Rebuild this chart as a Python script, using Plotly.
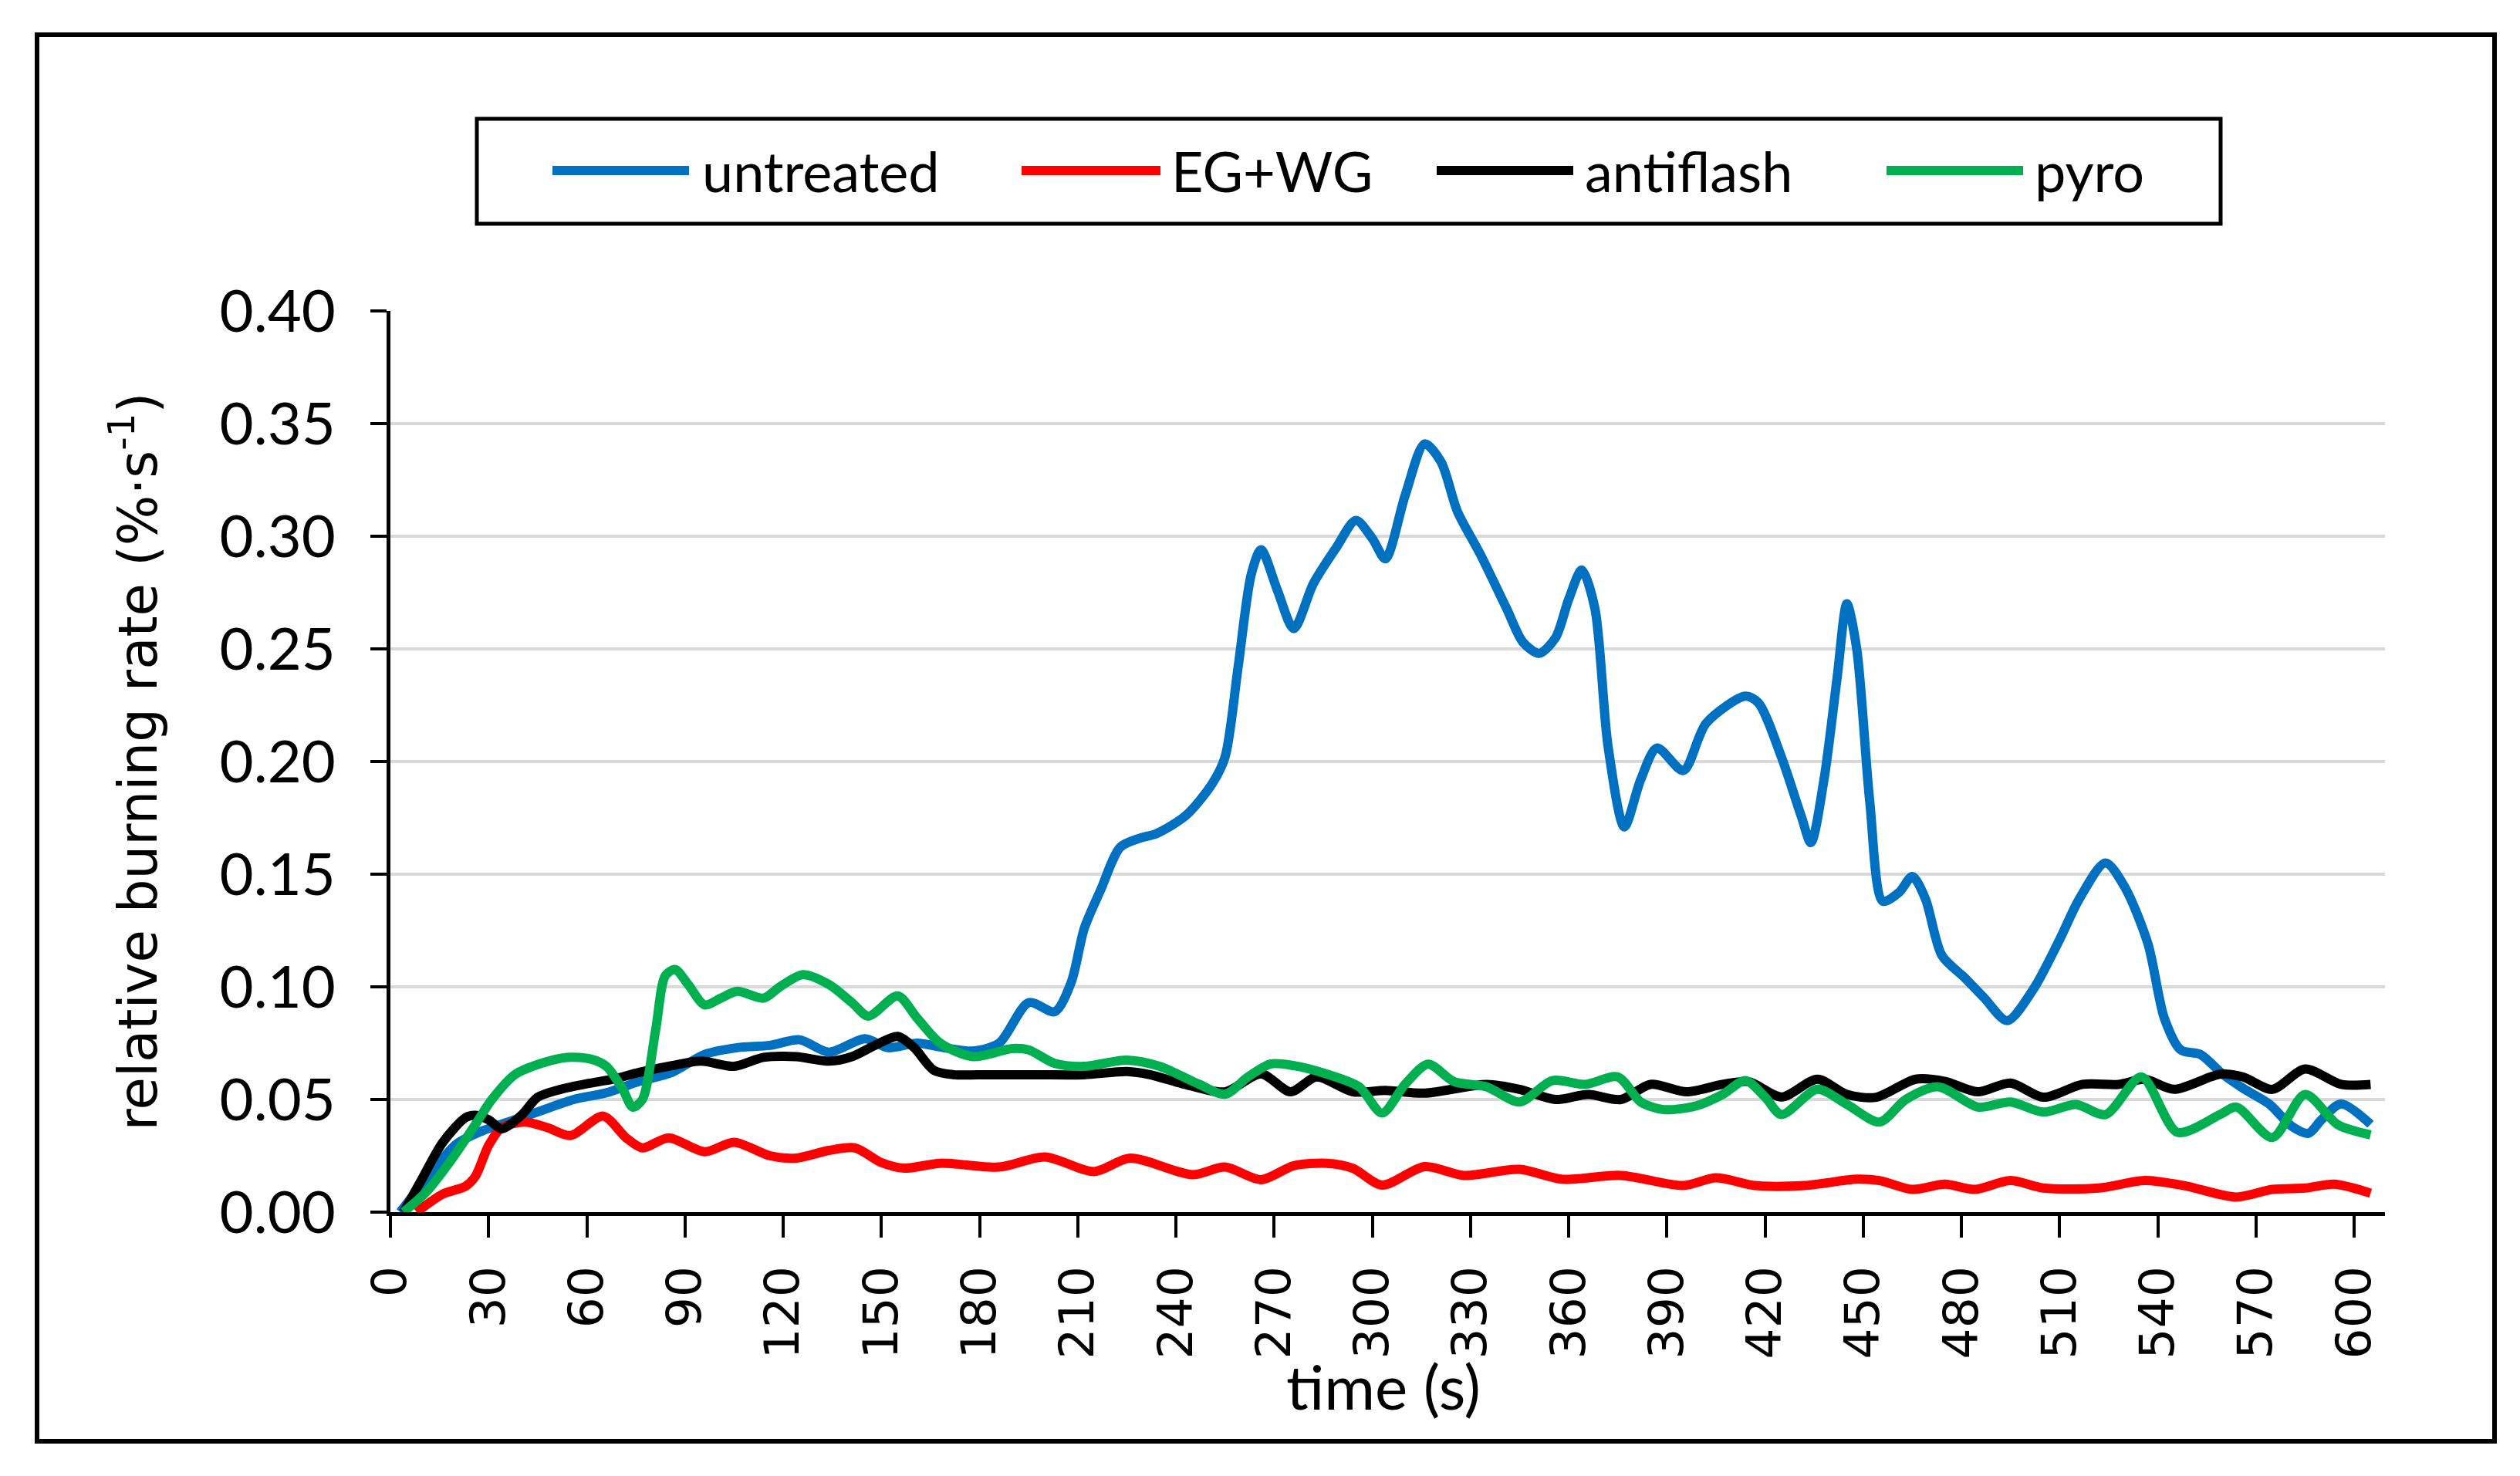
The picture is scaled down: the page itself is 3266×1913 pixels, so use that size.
import plotly.graph_objects as go

# ---------------- data ----------------
time_untreated = [3, 10, 20, 28, 36, 46, 56, 66, 76, 86, 96, 106, 116, 125, 134, 145, 152, 161, 169, 178,
                  186, 195, 203, 208, 212, 217, 223, 229, 234, 243, 251, 255, 259, 263, 266, 271, 276, 282,
                  289, 295, 300, 304, 310, 316, 321, 326, 333, 341, 346, 351, 356, 360, 364, 368, 372, 377,
                  382, 387, 395, 402, 414, 418, 425, 431, 434, 438, 442, 445, 448, 452, 456, 461, 465, 469,
                  474, 481, 487, 494, 502, 510, 516, 524, 530, 537, 542, 547, 553, 560, 566, 574, 581, 586,
                  590, 596, 605]
untreated = [0.000, 0.013, 0.030, 0.036, 0.040, 0.045, 0.050, 0.053, 0.058, 0.062, 0.070, 0.073, 0.074, 0.0765,
             0.071, 0.077, 0.073, 0.075, 0.073, 0.0715, 0.075, 0.093, 0.089, 0.102, 0.126, 0.143, 0.162, 0.166,
             0.168, 0.176, 0.190, 0.202, 0.242, 0.283, 0.294, 0.276, 0.259, 0.279, 0.295, 0.307, 0.299, 0.290,
             0.318, 0.341, 0.333, 0.311, 0.292, 0.268, 0.253, 0.248, 0.255, 0.272, 0.285, 0.268, 0.207, 0.171,
             0.192, 0.206, 0.196, 0.217, 0.229, 0.226, 0.202, 0.176, 0.164, 0.192, 0.237, 0.270, 0.250, 0.182,
             0.138, 0.142, 0.149, 0.139, 0.114, 0.104, 0.095, 0.085, 0.099, 0.121, 0.139, 0.155, 0.144, 0.119,
             0.086, 0.072, 0.070, 0.061, 0.055, 0.048, 0.038, 0.035, 0.041, 0.048, 0.039]

time_egwg = [8, 16, 23, 26, 30, 34, 41, 48, 55, 65, 72, 77, 85, 96, 105, 116, 124, 134, 142, 150, 157, 168,
             186, 200, 215, 226, 245, 255, 266, 276, 286, 294, 303, 316, 328, 345, 358, 376, 395, 405, 417,
             432, 448, 455, 465, 475, 484, 495, 505, 522, 536, 548, 564, 575, 585, 594, 605]
egwg = [0.000, 0.008, 0.0115, 0.016, 0.0296, 0.0375, 0.040, 0.0375, 0.034, 0.0426, 0.033, 0.0285, 0.033,
        0.0268, 0.031, 0.025, 0.024, 0.0274, 0.0285, 0.022, 0.0195, 0.0217, 0.020, 0.0245, 0.018, 0.024,
        0.0166, 0.020, 0.0144, 0.0206, 0.0217, 0.0195, 0.012, 0.0202, 0.0163, 0.019, 0.0146, 0.0163, 0.0118,
        0.0152, 0.0118, 0.0118, 0.0146, 0.014, 0.0101, 0.0124, 0.0101, 0.014, 0.0107, 0.0107, 0.014, 0.0118,
        0.0067, 0.0101, 0.0107, 0.0124, 0.0084]

time_antiflash = [4, 9, 16, 23, 26, 30, 34, 40, 45, 52, 60, 68, 76, 86, 95, 105, 114, 124, 134, 141, 148, 155,
                  160, 166, 172, 183, 197, 212, 225, 232, 242, 255, 266, 275, 283, 294, 304, 316, 335, 345, 356,
                  366, 376, 385, 396, 407, 415, 425, 436, 445, 454, 466, 475, 485, 495, 505, 517, 528, 536, 545,
                  559, 566, 575, 585, 596, 605]
antiflash = [0.000, 0.013, 0.031, 0.042, 0.043, 0.041, 0.037, 0.043, 0.051, 0.0545, 0.057, 0.059, 0.062, 0.065,
             0.067, 0.0647, 0.0687, 0.069, 0.067, 0.069, 0.074, 0.078, 0.073, 0.063, 0.061, 0.061, 0.061, 0.061,
             0.0624, 0.061, 0.057, 0.0534, 0.0614, 0.0534, 0.060, 0.0534, 0.054, 0.0528, 0.0567, 0.0545, 0.050,
             0.0522, 0.050, 0.0567, 0.0534, 0.0567, 0.0579, 0.0511, 0.059, 0.0522, 0.051, 0.059, 0.058, 0.0534,
             0.0573, 0.051, 0.0567, 0.0567, 0.059, 0.0545, 0.0612, 0.060, 0.0545, 0.0635, 0.0567, 0.0567]

time_pyro = [4, 11, 19, 26, 31, 38, 46, 54, 61, 66, 71, 74, 77, 81, 84, 87, 91, 96, 101, 106, 114, 119, 126,
             134, 141, 146, 155, 161, 168, 178, 190, 195, 203, 212, 225, 235, 247, 255, 262, 269, 276, 286, 296,
             303, 310, 317, 325, 335, 345, 355, 365, 375, 382, 389, 399, 407, 414, 420, 425, 436, 445, 455, 463,
             473, 485, 495, 505, 515, 524, 535, 546, 559, 564, 575, 585, 595, 605]
pyro = [0.000, 0.009, 0.024, 0.039, 0.050, 0.061, 0.066, 0.0687, 0.068, 0.0647, 0.0545, 0.0466, 0.050, 0.0805,
        0.105, 0.1077, 0.101, 0.092, 0.095, 0.098, 0.095, 0.100, 0.1054, 0.101, 0.093, 0.087, 0.096, 0.086,
        0.075, 0.069, 0.0726, 0.072, 0.066, 0.0647, 0.0675, 0.0647, 0.0568, 0.0523, 0.060, 0.0658, 0.065,
        0.0613, 0.0556, 0.044, 0.0567, 0.0657, 0.0579, 0.0556, 0.0489, 0.0584, 0.0567, 0.060, 0.0489, 0.0455,
        0.0472, 0.0522, 0.0584, 0.0511, 0.0433, 0.0545, 0.0478, 0.040, 0.050, 0.0556, 0.0466, 0.0489, 0.0444,
        0.0478, 0.0433, 0.060, 0.0354, 0.0433, 0.0466, 0.0331, 0.0522, 0.0388, 0.0343]

series_names = ["untreated", "EG+WG", "antiflash", "pyro"]
series_times = [time_untreated, time_egwg, time_antiflash, time_pyro]
series_values = [untreated, egwg, antiflash, pyro]
series_colors = ["#0070C0", "#FF0000", "#000000", "#00B050"]

x_ticks = list(range(0, 601, 30))
x_tick_labels = [str(v) for v in x_ticks]
y_ticks = [0.00, 0.05, 0.10, 0.15, 0.20, 0.25, 0.30, 0.35, 0.40]
y_tick_labels = ["%.2f" % v for v in y_ticks]
x_title = "time (s)"
y_title = "relative burning rate (%·s<sup>-1</sup>)"

# ---------------- figure ----------------
W, H = 3266, 1913
ML, MR, MT, MB = 498, 183, 395, 350
PW, PH = W - ML - MR, H - MT - MB

fig = go.Figure()
for name, t, v, c in zip(series_names, series_times, series_values, series_colors):
    fig.add_trace(go.Scatter(x=t, y=v, mode="lines", name=name, showlegend=False,
                             line=dict(color=c, width=12, shape="spline", smoothing=0.8)))


def px_x(X):
    return (X - ML) / PW


def px_y(Y):
    return (H - MB - Y) / PH


shapes = []
annotations = []
# outer frame
shapes.append(dict(type="rect", xref="paper", yref="paper", x0=px_x(40), x1=px_x(3225),
                   y0=px_y(1860), y1=px_y(37), line=dict(color="black", width=6), layer="below"))
# legend box
shapes.append(dict(type="rect", xref="paper", yref="paper", x0=px_x(610), x1=px_x(2870),
                   y0=px_y(282), y1=px_y(146), line=dict(color="black", width=5)))
leg_line_x = [(708, 885), (1316, 1496), (1854, 2031), (2437, 2614)]
leg_text_x = [900, 1508, 2044, 2627]
leg_y = px_y(213)
for name, c, (a, b), tx in zip(series_names, series_colors, leg_line_x, leg_text_x):
    shapes.append(dict(type="line", xref="paper", yref="paper", x0=px_x(a), x1=px_x(b),
                       y0=leg_y, y1=leg_y, line=dict(color=c, width=12)))
    annotations.append(dict(text=name, xref="paper", yref="paper", x=px_x(tx), y=leg_y,
                            xanchor="left", yanchor="middle", showarrow=False,
                            font=dict(family="Lato", size=72, color="black")))
# x-axis title
annotations.append(dict(text=x_title, xref="paper", yref="paper", x=px_x(1785), y=px_y(1788),
                        xanchor="center", yanchor="middle", showarrow=False,
                        font=dict(family="Lato", size=80, color="black")))

fig.update_layout(
    width=W, height=H,
    margin=dict(l=ML, r=MR, t=MT, b=MB, autoexpand=False),
    paper_bgcolor="white", plot_bgcolor="white",
    showlegend=False,
    shapes=shapes, annotations=annotations,
    xaxis=dict(range=[0, 609.4], tickmode="array", tickvals=x_ticks, ticktext=x_tick_labels,
               tickangle=-90, ticks="outside", ticklen=28, tickwidth=4, tickcolor="black",
               showline=True, linecolor="black", linewidth=5, showgrid=False, zeroline=False,
               ticklabelstandoff=12,
               tickfont=dict(family="DejaVu Sans", size=63, color="black")),
    yaxis=dict(range=[0, 0.40], tickmode="array", tickvals=y_ticks, ticktext=y_tick_labels,
               ticks="outside", ticklen=21, tickwidth=4, tickcolor="black",
               showline=True, linecolor="black", linewidth=5,
               showgrid=True, gridcolor="#D9D9D9", gridwidth=4, zeroline=False,
               ticklabelstandoff=30,
               tickfont=dict(family="Lato", size=76, color="black"),
               title=dict(text=y_title, standoff=60,
                          font=dict(family="DejaVu Sans", size=69, color="black"))),
)

fig.write_html("out.html")
